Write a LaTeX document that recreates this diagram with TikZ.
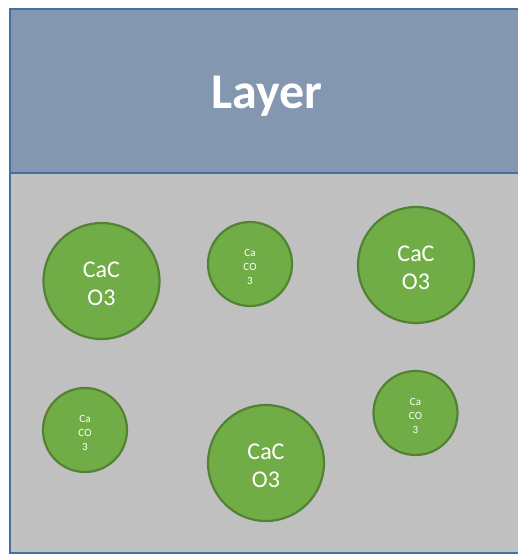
\documentclass[tikz,border=0pt]{standalone}
\usepackage{fontspec}
\setmainfont{Carlito}
\definecolor{headfill}{HTML}{8497B0}
\definecolor{frameblue}{HTML}{41719C}
\definecolor{bodyfill}{HTML}{C0C0C0}
\definecolor{grainfill}{HTML}{70AD47}
\definecolor{grainedge}{HTML}{548235}
\tikzset{
  panel/.style={draw=frameblue, line width=2pt},
  grain/.style={circle, draw=grainedge, line width=2.2pt, fill=grainfill,
    inner sep=0pt},
  graintext/.style={text=white, align=center, inner sep=0pt, yshift=-3pt},
  biggrain/.style={grain, minimum size=116pt,
    label={[graintext, font=\fontsize{24}{28}\selectfont]center:{#1}}},
  smallgrain/.style={grain, minimum size=84pt,
    label={[graintext, font=\fontsize{11}{14}\selectfont]center:{#1}}},
}
\begin{document}
\begin{tikzpicture}[x=1pt, y=-1pt]
  \useasboundingbox (0,0) rectangle (518,554);
  % body of the layer and its header band (right edge runs past the page)
  \path[panel, fill=bodyfill] (10,173) rectangle (530,553);
  \path[panel, fill=headfill] (10,9) rectangle (530,173);
  \node[anchor=base, text=white, font=\fontsize{50}{60}\selectfont\bfseries]
    (title) at (267,108) {Layer};
  % calcium carbonate grains
  \node[biggrain={CaC\\O3}]     (g1) at (101.5,281) {};
  \node[smallgrain={Ca\\CO\\3}] (g2) at (250,264)   {};
  \node[biggrain={CaC\\O3}]     (g3) at (416,265)   {};
  \node[smallgrain={Ca\\CO\\3}] (g4) at (85,430)    {};
  \node[biggrain={CaC\\O3}]     (g5) at (266,463)   {};
  \node[smallgrain={Ca\\CO\\3}] (g6) at (415.5,413) {};
\end{tikzpicture}
\end{document}
